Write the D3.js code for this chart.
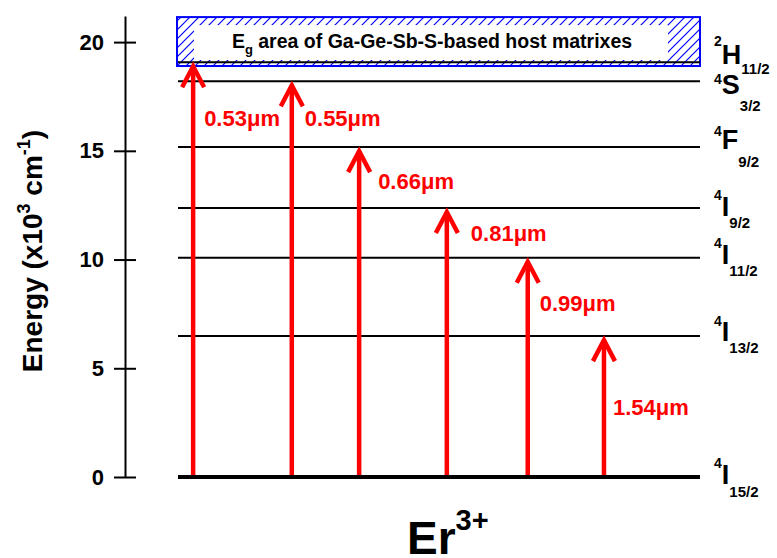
<!DOCTYPE html>
<html>
<head>
<meta charset="utf-8">
<script src="https://cdn.jsdelivr.net/npm/d3@7"></script>
<style>
  body { margin: 0; background: #fff; }
  svg { display: block; font-family: "Liberation Sans", Arial, sans-serif; font-weight: bold; }
</style>
</head>
<body>
<svg id="chart" width="777" height="558"></svg>
<script>
// Er3+ energy levels, in 10^3 cm^-1
const levelSup    = ["4", "4", "4", "4", "4", "4", "2"];
const levelLetter = ["I", "I", "I", "I", "F", "S", "H"];
const levelSub    = ["15/2", "13/2", "11/2", "9/2", "9/2", "3/2", "11/2"];
const levelEnergy = [0, 6.48, 10.08, 12.37, 15.17, 18.2, 19.07];

// Ground-state absorption transitions
const transLabels = ["0.53\u03bcm", "0.55\u03bcm", "0.66\u03bcm", "0.81\u03bcm", "0.99\u03bcm", "1.54\u03bcm"];
const transUpper  = [6, 5, 4, 3, 2, 1];            // index of the upper level
const transPos    = [2.9, 21.8, 34.7, 51.5, 67.0, 81.6]; // horizontal place in the diagram (0-100)

// Band-gap region of the glass host
const bandgapRange = [18.9, 21.15];
const bandgapText  = "area of Ga-Ge-Sb-S-based host matrixes";

const yTicks = [0, 5, 10, 15, 20];
const yMax = 21.2;

// ---------------------------------------------------------------
const svg = d3.select("#chart");
const axisX = 125;

const x = d3.scaleLinear().domain([0, 100]).range([178, 700]);
const y = d3.scaleLinear().domain([0, yMax]).range([477, 16]);

// hatch pattern for the band-gap box
const defs = svg.append("defs");
const pat = defs.append("pattern")
  .attr("id", "hatch")
  .attr("patternUnits", "userSpaceOnUse")
  .attr("width", 9).attr("height", 9);
pat.append("path")
  .attr("d", "M0,9 L9,0 M-2,2 L2,-2 M7,11 L11,7")
  .attr("stroke", "#0000ff").attr("stroke-width", 1.2);

// y axis with ticks crossing the spine
const yAxis = d3.axisLeft(y).tickValues(yTicks).tickSize(11).tickSizeOuter(0).tickPadding(10);
const gAxis = svg.append("g").attr("transform", `translate(${axisX},0)`).call(yAxis);
gAxis.select(".domain").attr("stroke", "#000").attr("stroke-width", 2);
gAxis.selectAll(".tick line").attr("x1", 11).attr("x2", -11).attr("stroke", "#000").attr("stroke-width", 2);
gAxis.selectAll(".tick text")
  .attr("font-size", 22).attr("font-weight", "bold").attr("fill", "#000")
  .attr("font-family", "Liberation Sans, Arial, sans-serif");

// y axis title
const yTitle = svg.append("text")
  .attr("transform", "translate(42,251) rotate(-90)")
  .attr("text-anchor", "middle")
  .attr("font-size", 28);
yTitle.append("tspan").text("Energy (x10");
yTitle.append("tspan").attr("font-size", 18).attr("dy", -12).text("3");
yTitle.append("tspan").attr("dy", 12).text(" cm");
yTitle.append("tspan").attr("font-size", 18).attr("dy", -12).text("-1");
yTitle.append("tspan").attr("dy", 12).text(")");

// band-gap box
const boxTop = y(bandgapRange[1]), boxBot = y(bandgapRange[0]);
svg.append("rect")
  .attr("x", x(0) - 1).attr("y", boxTop)
  .attr("width", x(100) - x(0) + 1).attr("height", boxBot - boxTop)
  .attr("fill", "url(#hatch)")
  .attr("stroke", "#0000ff").attr("stroke-width", 2);
svg.append("rect")
  .attr("x", x(0) + 16).attr("y", boxTop + 8)
  .attr("width", x(100) - x(0) - 48).attr("height", boxBot - boxTop - 14)
  .attr("fill", "#fff");
const bgText = svg.append("text")
  .attr("x", (x(0) + x(100)) / 2 - 7).attr("y", boxTop + 31)
  .attr("text-anchor", "middle").attr("font-size", 19.5);
bgText.append("tspan").text("E");
bgText.append("tspan").attr("font-size", 13).attr("dy", 6).text("g");
bgText.append("tspan").attr("dy", -6).text(" " + bandgapText);

// excited level lines
const levelIdx = d3.range(levelEnergy.length);
svg.append("g").selectAll("line")
  .data(levelIdx.filter(i => i > 0))
  .join("line")
  .attr("x1", x(0)).attr("x2", x(100))
  .attr("y1", i => y(levelEnergy[i])).attr("y2", i => y(levelEnergy[i]))
  .attr("stroke", "#000").attr("stroke-width", 2);

// absorption arrows
const red = "#ff0000";
const gArrows = svg.append("g");
d3.range(transLabels.length).forEach(k => {
  const ax = x(transPos[k]);
  const tip = y(levelEnergy[transUpper[k]]);
  const g = gArrows.append("g");
  g.append("line")
    .attr("x1", ax).attr("x2", ax)
    .attr("y1", y(0)).attr("y2", tip + 4)
    .attr("stroke", red).attr("stroke-width", 4.5);
  g.append("path")
    .attr("d", `M${ax - 11},${tip + 25} L${ax},${tip + 4} L${ax + 11},${tip + 25}`)
    .attr("fill", "none").attr("stroke", red).attr("stroke-width", 4.5)
    .attr("stroke-linejoin", "miter");
});

// wavelength labels next to each arrow (offset px, energy of label centre)
const labelLayout = [[11, 16.5], [13, 16.5], [19, 13.6], [24, 11.2], [12, 8.0], [9, 3.2]];
svg.append("g").selectAll("text")
  .data(d3.range(transLabels.length))
  .join("text")
  .attr("x", k => x(transPos[k]) + labelLayout[k][0])
  .attr("y", k => y(labelLayout[k][1]) + 8)
  .attr("font-size", 22).attr("fill", red)
  .text(k => transLabels[k]);

// ground level line
svg.append("line")
  .attr("x1", x(0)).attr("x2", x(100))
  .attr("y1", y(0)).attr("y2", y(0))
  .attr("stroke", "#000").attr("stroke-width", 4);

// term symbols to the right of each level: [letter dy, sup dy, sub dy]
const termLayout = [[7, -16, 13], [5, -15, 12], [6, -16, 12], [8, -16, 12], [2, -13, 18], [13, -10, 17], [2, -18, 10]];
const gTerms = svg.append("g");
levelIdx.forEach(i => {
  const base = y(levelEnergy[i]) + termLayout[i][0];
  const t = gTerms.append("text").attr("x", 714).attr("y", base);
  t.append("tspan").attr("font-size", 14).attr("dy", termLayout[i][1]).text(levelSup[i]);
  t.append("tspan").attr("font-size", 27).attr("dy", -termLayout[i][1]).text(levelLetter[i]);
  t.append("tspan").attr("font-size", 15).attr("dy", termLayout[i][2]).text(levelSub[i]);
});

// ion label under the diagram
const ion = svg.append("text").attr("x", 407).attr("y", 554).attr("font-size", 46);
ion.append("tspan").text("Er");
ion.append("tspan").attr("font-size", 29).attr("dy", -24).text("3+");
</script>
</body>
</html>
